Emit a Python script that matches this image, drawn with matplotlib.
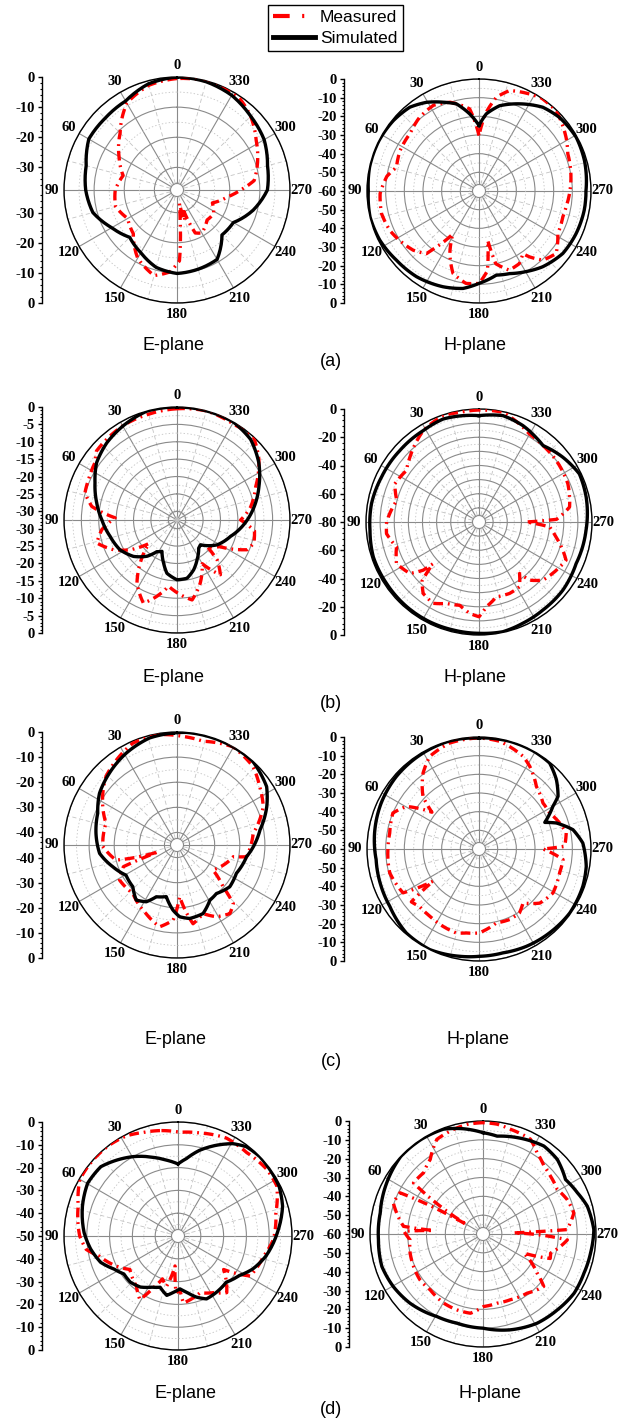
import matplotlib

matplotlib.use("Agg")
import matplotlib.pyplot as plt
import numpy as np
from matplotlib.lines import Line2D
from matplotlib.ticker import FixedLocator

W, H = 630, 1424
plt.rcParams["lines.scale_dashes"] = False

ANGLE_LABELS = ["0", "30", "60", "90", "120", "150", "180", "210", "240", "270", "300", "330"]
ROW_TAGS = ["(a)", "(b)", "(c)", "(d)"]
PLANE_NAMES = ["E-plane", "H-plane"]
LEGEND_LABELS = ["Measured", "Simulated"]

# ---- (a) E-plane
AE_SIM_ANG = [0, 15, 30, 45, 60, 75, 90, 105, 120, 135, 150, 165, 180, 195, 210, 225, 240, 255, 270, 285, 300, 315, 330, 345]
AE_SIM_DB = [0, -1, -3.4, -3.8, -3.7, -6.3, -7.2, -8.6, -12.5, -15.3, -13.5, -10.9, -9.8, -10.3, -10.9, -16.4, -15.9, -11.4, -7.5, -6.4, -4.1, -2.9, -1.2, -0.3]
AE_MEAS_ANG = [0, 15, 30, 45, 60, 75, 90, 105, 120, 135, 150, 165, 175, 182, 186, 190, 194, 198, 203, 210, 225, 237, 250, 262, 270, 277, 292, 302, 315, 325, 344]
AE_MEAS_DB = [-0.5, -1.5, -4.2, -10.8, -15.3, -19, -17, -16.4, -18.6, -17, -11.4, -8.1, -10.2, -14, -28, -33, -27, -30, -22, -21, -23.4, -23, -25, -20.7, -16.4, -11.7, -8.6, -6.5, -2.9, -0.8, 0]

# ---- (a) H-plane
AH_SIM_ANG = [0, 6.9, 14.5, 22, 30.6, 39.5, 50.6, 63.4, 77.6, 90, 103.4, 116.4, 130, 144, 159.4, 170.7, 180, 191.6, 200.4, 210.3, 220, 233.3, 246.3, 259.6, 270, 286, 299, 312.5, 322.7, 333.3, 346.4, 354.6]
AH_SIM_DB = [-24.9, -18.4, -11.8, -8.7, -4.8, -1.8, -0.6, 0, 0, -0.7, 0, -0.7, -2.3, -3.2, -5.2, -7.1, -10.5, -14, -12.8, -10, -7, -4, -3.2, -2.7, -2.7, -1.2, -0.5, -1.6, -3.6, -7.8, -13, -18.5]
AH_MEAS_ANG = [0, 6.5, 18, 28, 39, 50, 63, 74, 81, 91.5, 103, 114, 125, 132, 140, 142, 148.6, 155, 162.5, 172, 180, 186, 190, 193, 201, 209, 215, 217.5, 222.7, 231, 241.6, 252.8, 259.6, 267.5, 280, 292.8, 301.7, 316, 326, 332.5, 343, 349.5, 355]
AH_MEAS_DB = [-30.3, -15.7, -10, -8, -9.3, -11.9, -12.5, -14, -10, -7, -6.4, -7.8, -10.7, -12.6, -16.2, -21, -33, -23, -13.7, -10, -10.5, -17, -33, -20, -14.6, -15.5, -19, -15.5, -9.6, -6.8, -12, -13, -12.6, -11.6, -10, -8.4, -5.2, -0.4, 0, -1.4, -3.7, -8.9, -18]

# ---- (b) E-plane
BE_SIM_ANG = [0, 15.4, 29.7, 42.3, 54.5, 65.6, 78, 90, 103.8, 117.6, 130, 140.5, 147.5, 154.4, 162.8, 169.3, 180, 189.8, 198.5, 206.8, 217.7, 223.4, 238.3, 253, 270, 282.2, 292.4, 304.9, 317.6, 330.1, 344.8]
BE_SIM_DB = [0, 0, -1.3, -2.5, -4.1, -6.6, -8.9, -10.9, -12.7, -14, -16.2, -19, -21.7, -22.5, -19.5, -16.9, -15.3, -15.5, -17.4, -19.7, -22.3, -22.7, -18.9, -16.4, -12.3, -9.4, -7, -3.8, -1.1, 0, 0]
BE_MEAS_ANG = [0, 15, 28.5, 43.6, 49.4, 55, 65, 73.6, 81, 88, 97.3, 106, 115, 122.4, 130, 139.5, 147.6, 158, 165, 172.8, 182.6, 190.7, 200.3, 210, 218.4, 225.2, 228.7, 238, 247, 253.3, 262, 270, 280, 293, 306.5, 317.5, 329, 345]
BE_MEAS_DB = [-0.5, -1, -1.2, -1.8, -2, -3.7, -4.5, -4.9, -7.7, -14.7, -10.7, -8.5, -12.3, -16.5, -22, -16.2, -11, -6.7, -9.7, -13.3, -11, -9.1, -13.2, -18, -12.4, -16.2, -21, -18, -10.6, -9.4, -10, -14.2, -11, -7.9, -3.2, 0, -0.5, 0]

# ---- (b) H-plane
BH_SIM_ANG = [0, 19.2, 31.4, 47.9, 65.3, 80.3, 94.4, 108.3, 123.6, 139.5, 153.7, 166.5, 180, 192.3, 203.4, 215.9, 230.9, 246.8, 265.6, 283.1, 295.6, 307.7, 320, 326, 335.5, 347.3]
BH_SIM_DB = [-4.7, -2.8, -4.2, -4.5, -4, -2.8, -2.6, -1.2, -1.4, -1.2, -1.2, -1.4, -1.2, -0.5, -1.9, -3, -3.5, -5.2, -4, -2.1, -1.2, -5, -9.4, -7.8, -5, -2.8]
BH_MEAS_ANG = [0, 10, 18.6, 31.4, 46.8, 54.6, 65.6, 75.3, 90, 97.2, 106.8, 116.7, 126.7, 130.8, 132.2, 136, 142, 150.6, 158.2, 167, 174.2, 180, 185, 193, 203.2, 212, 218.2, 221, 227.7, 238, 246.3, 251.4, 259, 266, 270, 272, 279.4, 293.3, 308.6, 320, 330.2, 335, 347.7]
BH_MEAS_DB = [-0.7, -1.2, -0.5, -4.2, -12.9, -17, -14.6, -19.8, -14.6, -14, -19, -14.6, -19, -27.8, -36, -22, -15.8, -13.9, -17.9, -19.5, -15, -12.9, -19.8, -25.6, -25, -25.9, -33.6, -25.4, -18.8, -15.5, -12.7, -17.4, -24.5, -29.9, -46.6, -25, -15, -11.5, -10.1, -9.4, -8.2, -6.1, -0.5]

# ---- (c) E-plane
CE_SIM_ANG = [2, 14.4, 28.9, 43.2, 56.3, 68.2, 81.8, 96.2, 108.7, 120.6, 133.4, 143.5, 151.6, 158.2, 168.3, 176.5, 182.1, 189.8, 200.8, 210.7, 219.1, 231.6, 244.5, 260.5, 268.7, 280.3, 293.2, 303.1, 318.2, 331.2, 341.9, 355.3]
CE_SIM_DB = [-0.4, -1, -3.2, -5.7, -7.9, -11, -12.4, -14, -18, -21.4, -20.8, -17.7, -19.3, -22.8, -24, -19, -16.4, -15.3, -15.8, -19.4, -20.1, -18.2, -18.8, -16.9, -14.6, -11.4, -6.1, -2.4, 0, 0, 0, 0]
CE_MEAS_ANG = [9, 23.4, 33, 46, 62.6, 72.9, 90.9, 103.9, 110, 112, 121.4, 137.7, 155.8, 168, 177, 183, 191.5, 200.8, 208.8, 217.6, 223.8, 227.8, 235.2, 258.2, 260.4, 278.7, 294, 305.2, 315.9, 330.3, 345.9, 356.8]
CE_MEAS_DB = [-0.5, -0.8, -2.9, -5.7, -11.7, -15.4, -15.4, -20, -37, -22, -18.2, -18.9, -15, -11.7, -15, -24.4, -13, -15.8, -12.4, -10.5, -12.6, -20.2, -27.6, -22.1, -16.9, -14.3, -7.4, -4.7, -1.5, 0, -2.4, -1.7]

# ---- (c) H-plane
CH_SIM_ANG = [0, 15, 30.3, 48.7, 64.8, 81.3, 95.9, 110.9, 122.7, 139.1, 153.9, 169.8, 180, 193, 206, 220, 234.8, 250.3, 260.8, 273.3, 281.6, 288.6, 292, 300, 303.7, 311.9, 320.6, 330, 344.1]
CH_SIM_DB = [-0.5, 0, -0.5, -1.1, -2.1, -3.4, -4.6, -3.9, -3.2, -0.5, 0, -1.6, -2.5, -2.9, -2, -1.3, -0.5, -0.9, -1.8, -4.3, -8.6, -16.3, -22, -14.3, -9.1, -4.3, -0.4, 0, 0]
CH_MEAS_ANG = [0, 15.5, 28, 36.4, 46.8, 52, 59.6, 67.3, 79.8, 90, 105, 120, 125, 128, 134, 143.8, 155, 165, 171.4, 180, 193.2, 203.5, 212.4, 219.2, 228.3, 239.3, 253.4, 262.8, 270, 271.8, 280.4, 287.9, 297, 305.7, 317.5, 328.5, 334.6, 349.1]
CH_MEAS_DB = [-0.5, -1.1, -3.8, -9.5, -18.8, -28, -14.9, -10, -11.4, -11.2, -10.5, -13, -30, -14, -15.7, -15.4, -14.3, -13.4, -14.5, -15, -19.3, -18.8, -19.5, -22.7, -16.4, -13.9, -15, -14.6, -25.7, -14.1, -12.5, -14.6, -17.5, -17.8, -14.5, -8, -5, -1.25]

# ---- (d) E-plane
DE_SIM_ANG = [0, 8.4, 17.3, 29.2, 48.1, 59.7, 72.7, 88, 98.6, 108.9, 117.3, 125, 134.2, 143.7, 153, 160.8, 169.3, 175.3, 182.1, 188.7, 196.8, 204.4, 214.3, 226.2, 237.2, 246.1, 257.3, 271.9, 285.9, 296.1, 314.3, 322.7, 329.3, 337.1, 345.8, 353.7]
DE_SIM_DB = [-18.4, -16.4, -13.9, -10.1, -4.5, -4.1, -6.1, -8.8, -11.3, -14.2, -18.4, -21, -20.9, -22.2, -24.8, -26.2, -23.5, -25.2, -26.8, -25.1, -22, -19.7, -20.1, -20.7, -18, -14.2, -10.4, -6.4, -2.3, -0.6, 0, -0.7, -2.9, -6.8, -11.2, -15.8]
DE_MEAS_ANG = [9.7, 18.5, 27.2, 37.4, 49, 60, 73.3, 90, 98.3, 104.4, 116, 124.8, 140.4, 149, 154.5, 160, 167.2, 174.3, 178, 182, 184.6, 201.2, 212, 220.7, 233.7, 241, 256.8, 268, 283.3, 296.9, 306.9, 320.5, 333.7, 348, 358.9]
DE_MEAS_DB = [-3.1, -2.1, -0.6, 0, 0, -0.3, -4.3, -6.9, -9.3, -14.4, -19.9, -24.3, -21.4, -17.5, -24.8, -30, -27.4, -36.8, -25, -26.5, -20.5, -23.3, -20.7, -17.2, -25.2, -13.8, -11.4, -8.1, -5.9, -1.4, -1.3, -2.6, -2.1, -3.8, -4.5]

# ---- (d) H-plane
DH_SIM_ANG = [0, 10.4, 20.7, 33.1, 46.8, 62, 78.4, 93.1, 107.8, 120.4, 133.5, 150.8, 163.7, 180, 195.9, 211.2, 224.4, 237, 248.8, 260, 272.2, 285, 293.6, 303.4, 315.1, 325.3, 340.5, 351.8]
DH_SIM_DB = [-6.2, -3.2, -0.5, 0, 0, -2.1, -4.3, -4.4, -3.6, -4.8, -6.6, -9.8, -10.7, -10, -7.1, -4.6, -3.6, -2.3, -2.5, -2, -1.1, -2.7, -5.3, -7.5, -4.1, -3.2, -5.7, -7.5]
DH_MEAS_ANG = [0, 8.3, 15.7, 26, 35.3, 44.2, 53.7, 60, 62, 63.6, 70.9, 76.3, 84.5, 86, 88, 94.5, 104.7, 115, 126, 136.6, 150.3, 161, 171, 180.5, 191.5, 202.6, 216.7, 229.2, 234.2, 245, 250, 254.2, 261, 266, 272, 273, 283, 292.2, 301, 310.6, 318.1, 326.3, 333.4, 345.3, 352.7]
DH_MEAS_DB = [-0.9, -1.2, -2.3, -4.1, -11.5, -14.7, -14.2, -50, -26, -10.8, -9.6, -12.8, -17.6, -33.5, -18, -21.1, -20, -19.3, -18.6, -19.2, -17.8, -17.4, -17.4, -21.5, -22.5, -22.2, -20.8, -17.4, -24.5, -36, -22, -22.7, -18.3, -15.1, -43.7, -15.3, -10.5, -11.7, -14, -12.8, -11.5, -8.2, -3.7, -2.5, -1.2]

# scale of each panel: (centre value, label step, minor tick step, ring step)
SCALES = {
    "aE": (-37.5, 10, 2, 10), "aH": (-60, 10, 2, 10),
    "bE": (-32.5, 5, 1, 5), "bH": (-80, 20, 4, 10),
    "cE": (-45, 10, 2, 10), "cH": (-60, 10, 2, 10),
    "dE": (-50, 10, 2, 10), "dH": (-60, 10, 2, 10),
}

# layout in pixels: centre x, centre y, radius, x of the dB scale
LAYOUT = {
    "aE": (177, 190, 113, 42), "aH": (479, 191, 112, 344),
    "bE": (177, 520, 113, 42), "bH": (479, 522, 113, 344),
    "cE": (177, 845, 113, 42), "cH": (479, 849, 112, 344),
    "dE": (178, 1236, 114, 42), "dH": (483, 1234, 113, 349),
}

CURVES = {
    "aE": (AE_SIM_ANG, AE_SIM_DB, AE_MEAS_ANG, AE_MEAS_DB),
    "aH": (AH_SIM_ANG, AH_SIM_DB, AH_MEAS_ANG, AH_MEAS_DB),
    "bE": (BE_SIM_ANG, BE_SIM_DB, BE_MEAS_ANG, BE_MEAS_DB),
    "bH": (BH_SIM_ANG, BH_SIM_DB, BH_MEAS_ANG, BH_MEAS_DB),
    "cE": (CE_SIM_ANG, CE_SIM_DB, CE_MEAS_ANG, CE_MEAS_DB),
    "cH": (CH_SIM_ANG, CH_SIM_DB, CH_MEAS_ANG, CH_MEAS_DB),
    "dE": (DE_SIM_ANG, DE_SIM_DB, DE_MEAS_ANG, DE_MEAS_DB),
    "dH": (DH_SIM_ANG, DH_SIM_DB, DH_MEAS_ANG, DH_MEAS_DB),
}

RED = "#ff0000"
GRID_MAJOR = "#8a8a8a"
GRID_MINOR = "#c4c4c4"
MEAS_STYLE = (0, (7, 3.5, 1.3, 3.5))
SERIF_BOLD = dict(fontfamily="Liberation Serif", fontweight="bold", fontsize=10.5)
SANS = "Liberation Sans"


def closed(ang, vals):
    t = np.deg2rad(np.r_[ang, ang[0] + 360])
    return t, np.r_[vals, vals[0]]


def draw_panel(fig, key, hole=True):
    cx, cy, rad, axis_x = LAYOUT[key]
    rmin, step, mstep, ring = SCALES[key]
    sim_a, sim_v, meas_a, meas_v = CURVES[key]
    bottom = (H - cy - rad) / H
    ax = fig.add_axes([(cx - rad) / W, bottom, 2 * rad / W, 2 * rad / H], projection="polar")
    ax.set_theta_zero_location("N")
    ax.set_theta_direction(1)
    ax.set_ylim(rmin, 0)
    ax.set_axisbelow(True)

    ax.set_xticks(np.deg2rad(np.arange(0, 360, 30)))
    ax.set_xticklabels(ANGLE_LABELS, **SERIF_BOLD)
    ax.xaxis.set_minor_locator(FixedLocator(np.deg2rad(np.arange(15, 360, 30))))
    ax.tick_params(axis="x", which="both", pad=1.5, length=0)
    ax.xaxis.grid(True, which="major", color=GRID_MAJOR, lw=0.8, ls="-")
    ax.xaxis.grid(True, which="minor", color=GRID_MINOR, lw=0.6, ls=(0, (3, 2)))

    rings = np.arange(0, rmin, -ring)
    ax.set_yticks(rings)
    ax.set_yticklabels([])
    ax.yaxis.set_minor_locator(FixedLocator(rings - ring / 2))
    ax.tick_params(axis="y", which="both", length=0)
    ax.yaxis.grid(True, which="major", color=GRID_MAJOR, lw=0.8, ls="-")
    ax.yaxis.grid(True, which="minor", color=GRID_MINOR, lw=0.6, ls=(0, (1, 1.5)))
    ax.spines["polar"].set_linewidth(1.0)
    ax.spines["polar"].set_color("black")

    if hole:
        hole_db = -rmin * 6.5 / rad
        th = np.linspace(0, 2 * np.pi, 120)
        ax.fill_between(th, rmin, rmin + hole_db, color="white", lw=0, zorder=1.2)
        ax.plot(th, np.full_like(th, rmin + hole_db), color=GRID_MAJOR, lw=0.8, zorder=1.3)

    # let the polar transform draw each segment as an arc in (theta, r)
    t, v = closed(meas_a, meas_v)
    ln, = ax.plot(t, v, color=RED, lw=2.4, ls=MEAS_STYLE, zorder=3)
    ln.get_path()._interpolation_steps = 10
    t, v = closed(sim_a, sim_v)
    ln, = ax.plot(t, v, color="black", lw=2.4, zorder=4, solid_joinstyle="round")
    ln.get_path()._interpolation_steps = 10

    # dB scale on the left
    lax = fig.add_axes([axis_x / W, bottom, 0.0001, 2 * rad / H])
    span = -rmin
    lax.set_ylim(-span, span)
    lax.set_xlim(0, 1)
    majors = np.arange(0, rmin - 1e-9, -step)
    pos, labs = [], []
    for m in majors:
        for p in sorted({m - rmin, -(m - rmin)}):
            pos.append(p)
            labs.append(f"{m:g}")
    minors = []
    for m in np.arange(0, rmin - 1e-9, -mstep):
        if abs(m / step - round(m / step)) > 1e-6:
            minors += [m - rmin, -(m - rmin)]
    lax.set_yticks(pos)
    lax.set_yticklabels(labs, **SERIF_BOLD)
    lax.yaxis.set_minor_locator(FixedLocator(minors))
    lax.set_xticks([])
    for s in ("top", "right", "bottom"):
        lax.spines[s].set_visible(False)
    lax.spines["left"].set_linewidth(1.0)
    lax.patch.set_visible(False)
    lax.tick_params(axis="y", which="major", direction="out", length=3, width=1, pad=2)
    lax.tick_params(axis="y", which="minor", direction="out", length=1.8, width=0.8)
    return ax


fig = plt.figure(figsize=(W / 100, H / 100), dpi=100)

for row in "abcd":
    draw_panel(fig, row + "E", hole=(row != "b"))
    draw_panel(fig, row + "H")

LABEL_POS = [
    ((173, 345), (475, 345), (331, 362)),
    ((173, 677), (475, 677), (331, 703)),
    ((175, 1040), (478, 1040), (331, 1062)),
    ((185, 1393), (490, 1393), (331, 1410)),
]
for tag, (pe, ph, pt) in zip(ROW_TAGS, LABEL_POS):
    for name, p in zip(PLANE_NAMES, (pe, ph)):
        fig.text(p[0] / W, 1 - p[1] / H, name, ha="center", va="center", fontsize=13, family=SANS)
    fig.text(pt[0] / W, 1 - pt[1] / H, tag, ha="center", va="center", fontsize=13, family=SANS)

handles = [
    Line2D([], [], color=RED, lw=3, ls=(0, (12, 9, 1.5, 9))),
    Line2D([], [], color="black", lw=3.5),
]
leg = fig.legend(handles, LEGEND_LABELS, loc="upper left", bbox_to_anchor=(268 / W, 1 - 5 / H),
                 borderaxespad=0, frameon=True, fancybox=False, framealpha=1, edgecolor="black",
                 prop={"family": SANS, "size": 12.5}, handlelength=2.4, handletextpad=0.3,
                 borderpad=0.3, labelspacing=0.3)
leg.get_frame().set_linewidth(1.0)

fig.savefig("out.png", dpi=100)
